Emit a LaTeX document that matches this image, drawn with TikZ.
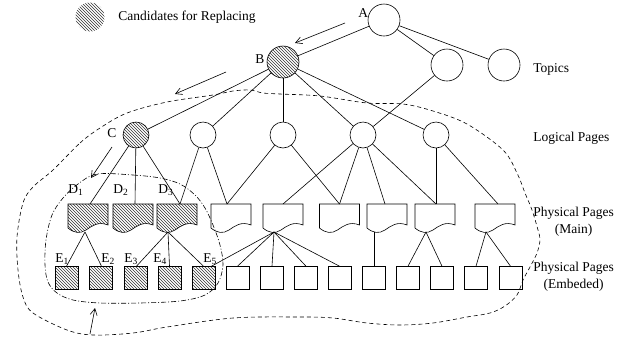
\documentclass[tikz,border=0pt]{standalone}
\usepackage{fontspec}
\setmainfont{Liberation Serif}
\usetikzlibrary{patterns,arrows.meta,calc}
\newcommand{\sbs}[1]{\raisebox{-0.4ex}{\fontsize{9.5}{9.5}\selectfont #1}}
\begin{document}
\begin{tikzpicture}[x=1pt,y=-1pt,line width=0.6pt,
  lbl/.style={font=\fontsize{13.5}{17}\selectfont,inner sep=0pt},
  topic/.style={circle,draw,minimum size=32pt,inner sep=0pt},
  logic/.style={circle,draw,minimum size=26pt,inner sep=0pt},
  emb/.style={rectangle,draw,minimum size=23pt,inner sep=0pt},
  hatch/.style={pattern=north west lines,pattern color=black!80},
  nohatch/.style={},
  arr/.style={-{Straight Barb[length=6.5pt,width=7pt]},line width=0.6pt},
  outer/.style={dash pattern=on 4pt off 3pt,line width=0.6pt},
  inner/.style={dash pattern=on 5pt off 2pt on 1pt off 2pt,line width=0.6pt},
  docpage/.pic={
    \path[draw,#1] (-20,-14) -- (-20,10) .. controls (-14,15) and (-8,16) .. (-2,12)
      .. controls (4,8) and (10,3) .. (20,7) -- (20,-14) -- cycle;
    \coordinate (-top) at (0,-14);
    \coordinate (-bot) at (-9,14);
  }]
\useasboundingbox (0,0) rectangle (631,341);

% legend
\node[circle,minimum size=29pt,inner sep=0pt,hatch] (legsym) at (90,17) {};
\node[lbl,anchor=west] (legtxt) at (118,17) {Candidates for Replacing};

% topics
\node[topic] (A) at (384,20) {};
\node[topic] (T2) at (447,65) {};
\node[topic] (T3) at (504,65) {};
\node[topic,hatch] (B) at (283,62) {};

% logical pages
\node[logic,hatch] (C) at (136,135) {};
\node[logic] (L2) at (203,135) {};
\node[logic] (L3) at (283,135) {};
\node[logic] (L4) at (363,135) {};
\node[logic] (L5) at (436,135) {};

% physical pages (main)
\pic (D1) at (88,218) {docpage=hatch};
\pic (D2) at (133,218) {docpage=hatch};
\pic (D3) at (177,218) {docpage=hatch};
\pic (P4) at (231,218) {docpage=nohatch};
\pic (P5) at (283,218) {docpage=nohatch};
\pic (P6) at (339.5,218) {docpage=nohatch};
\pic (P7) at (387,218) {docpage=nohatch};
\pic (P8) at (435,218) {docpage=nohatch};
\pic (P9) at (495,218) {docpage=nohatch};

% physical pages (embedded)
\node[emb,hatch] (E1) at (66.5,278) {};
\node[emb,hatch] (E2) at (100.5,278) {};
\node[emb,hatch] (E3) at (135.5,278) {};
\node[emb,hatch] (E4) at (169.5,278) {};
\node[emb,hatch] (E5) at (203.5,278) {};
\node[emb] (S6) at (237.5,278) {};
\node[emb] (S7) at (272,278) {};
\node[emb] (S8) at (306,278) {};
\node[emb] (S9) at (339.5,278) {};
\node[emb] (S10) at (374,278) {};
\node[emb] (S11) at (408,278) {};
\node[emb] (S12) at (442,278) {};
\node[emb] (S13) at (476,278) {};
\node[emb] (S14) at (510.5,278) {};

% tree connectors
\draw (A) -- (B);
\draw (A) -- (T2);
\draw (A) -- (T3);
\draw (B) -- (C);
\draw (B) -- (L2);
\draw (B) -- (L3);
\draw (B) -- (L4);
\draw (B) -- (L5);
\draw (T2) -- (L4);
\draw (C) -- ([xshift=2pt]D1-top);
\draw (C) -- ([xshift=2pt]D2-top);
\draw (C) -- ([xshift=3pt]D3-top);
\draw (L2) -- ([xshift=3pt]D3-top);
\draw (L2) -- ([xshift=-4pt]P4-top);
\draw (L3) -- ([xshift=-4pt]P4-top);
\draw (L3) -- (P6-top);
\draw (L4) -- (P5-top);
\draw (L4) -- (P6-top);
\draw (L4) -- ([xshift=-2pt]P7-top);
\draw (L4) -- ([xshift=1pt]P8-top);
\draw (L5) -- ([xshift=1pt]P8-top);
\draw (L5) -- ([xshift=3pt]P9-top);

\draw ([xshift=6pt]D1-bot) -- (E1.north);
\draw ([xshift=6pt]D1-bot) -- ([xshift=1pt]E2.north);
\draw (D3-bot) -- ([xshift=1pt]E3.north);
\draw (D3-bot) -- (E4.north);
\draw (D3-bot) -- (E5.north);
\draw (P5-bot) -- ([xshift=8pt]E5.north);
\draw (P5-bot) -- (S6.north);
\draw (P5-bot) -- (S7.north);
\draw (P5-bot) -- (S8.north);
\draw (P5-bot) -- (S9.north);
\draw (S10.north) -- (S10.north |- P7-bot);
\draw (P8-bot) -- (S11.north);
\draw (P8-bot) -- (S12.north);
\draw (P9-bot) -- (S13.north);
\draw (P9-bot) -- (S14.north);

% region outlines
\draw[outer] plot[smooth cycle,tension=0.55] coordinates {
  (53,170) (80,143) (100,128) (127,113) (167,102) (213,95) (233,91) (250,90)
  (263,93) (280,94) (320,96) (367,103) (403,104) (433,111) (467,124) (503,150)
  (517,173) (525,193) (532,210) (538,230) (540,240) (537,253) (530,267) (523,280)
  (517,295) (505,306) (490,313) (467,317) (433,323) (400,325) (367,323) (333,318)
  (300,317) (233,318) (167,327) (133,333) (93,335) (67,330) (33,313) (23,297)
  (18,270) (17,237) (23,203) (33,187)};
\draw[inner] plot[smooth cycle,tension=0.55] coordinates {
  (97,174) (133,175) (160,178) (180,184) (195,195) (205,208) (213,225) (220,245)
  (223,265) (218,283) (205,295) (180,301) (140,303) (100,303) (73,300) (57,293)
  (48,282) (45,265) (46,240) (52,215) (63,198) (78,184)};

% arrows
\coordinate (a1s) at (345,23); \coordinate (a1e) at (295,43);
\coordinate (a2s) at (226,72); \coordinate (a2e) at (175,94);
\coordinate (a3s) at (112,147); \coordinate (a3e) at (91,178);
\coordinate (a4s) at (90,334); \coordinate (a4e) at (95,308);
\draw[arr] (a1s) -- (a1e);
\draw[arr] (a2s) -- (a2e);
\draw[arr] (a3s) -- (a3e);
\draw[arr] (a4s) -- (a4e);

% letters
\node[lbl,anchor=base west] (lA) at (358,17) {A};
\node[lbl,anchor=base west] (lB) at (255,63) {B};
\node[lbl,anchor=base west] (lC) at (107,137) {C};
\node[lbl,anchor=base west] (lD1) at (68,193) {D\sbs{1}};
\node[lbl,anchor=base west] (lD2) at (113,193) {D\sbs{2}};
\node[lbl,anchor=base west] (lD3) at (158,193) {D\sbs{3}};
\node[lbl,anchor=base west] (lE1) at (55,262) {E\sbs{1}};
\node[lbl,anchor=base west] (lE2) at (101,262) {E\sbs{2}};
\node[lbl,anchor=base west] (lE3) at (124,262) {E\sbs{3}};
\node[lbl,anchor=base west] (lE4) at (153,262) {E\sbs{4}};
\node[lbl,anchor=base west] (lE5) at (203,262) {E\sbs{5}};

% level labels
\node[lbl,anchor=west] (tTop) at (533,69) {Topics};
\node[lbl,anchor=west] (tLog) at (533,138) {Logical Pages};
\node[lbl,anchor=west,align=center] (tPM) at (533,221.5) {Physical Pages\\(Main)};
\node[lbl,anchor=west,align=center] (tPE) at (533,276.5) {Physical Pages\\(Embeded)};
\end{tikzpicture}
\end{document}
